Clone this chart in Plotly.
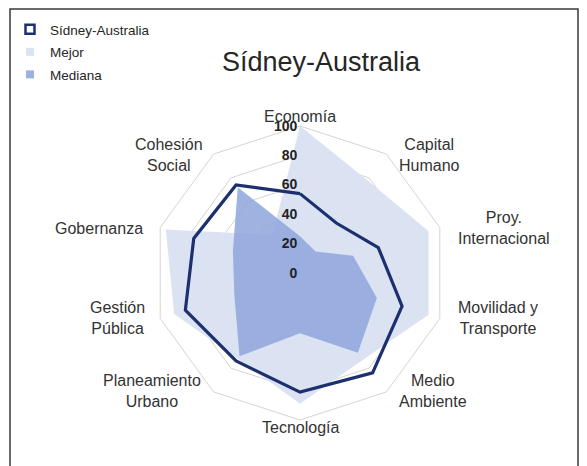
import plotly.graph_objects as go

categories = ["Economía", "Capital Humano", "Proy. Internacional", "Movilidad y Transporte",
              "Medio Ambiente", "Tecnología", "Planeamiento Urbano", "Gestión Pública",
              "Gobernanza", "Cohesión Social"]
label_text = ["Economía", "Capital<br>Humano", "Proy.<br>Internacional", "Movilidad y<br>Transporte",
              "Medio<br>Ambiente", "Tecnología", "Planeamiento<br>Urbano", "Gestión<br>Pública",
              "Gobernanza", "Cohesión<br>Social"]
sidney = [54, 42, 56, 73, 84, 81, 74, 82, 76, 74]
mejor = [100, 78, 92, 92, 73, 89, 72, 90, 96, 32]
mediana = [25, 18, 38, 55, 67, 41, 70, 47, 48, 72]
radial_ticks = [0, 20, 40, 60, 80, 100]

# layout: category label centres in page pixels
label_pos = [(300, 116), (429, 155), (504, 228), (498, 318), (433, 391),
             (300, 427), (152, 391), (117, 318), (99, 228), (169, 155)]

W, H = 587, 466
OFF = 8  # page body margin of the rendered html
cx, cy = 300, 273
R = 147

NAVY = "#1c2f6e"
LIGHT = "#dbe3f3"
MED = "#9db3df"


def px_x(x):
    return (x - OFF) / W


def px_y(y):
    return 1 - (y - OFF) / H


def closed(v):
    return list(v) + [v[0]]


theta = closed(categories)

fig = go.Figure()
fig.add_trace(go.Scatterpolar(r=closed(mejor), theta=theta, name="Mejor", mode="lines",
                              line=dict(width=0, color=LIGHT), fill="toself",
                              fillcolor=LIGHT, showlegend=False))
fig.add_trace(go.Scatterpolar(r=closed(mediana), theta=theta, name="Mediana", mode="lines",
                              line=dict(width=0, color=MED), fill="toself",
                              fillcolor="rgba(142,166,218,0.85)", showlegend=False))
fig.add_trace(go.Scatterpolar(r=closed(sidney), theta=theta, name="Sídney-Australia", mode="lines",
                              line=dict(width=3.2, color=NAVY), showlegend=False))

# legend entries (square swatches like the original)
legend_items = [("Sídney-Australia", dict(symbol="square", size=9, color="white",
                                          line=dict(color=NAVY, width=2.5))),
                ("Mejor", dict(symbol="square", size=8, color=LIGHT, line=dict(width=0))),
                ("Mediana", dict(symbol="square", size=8, color=MED, line=dict(width=0)))]
for i, (nm, mk) in enumerate(legend_items):
    fig.add_trace(go.Scatterpolar(r=[None], theta=[categories[0]], name=nm, mode="markers",
                                  marker=mk, legendgroup=f"g{i}", legendrank=i + 1))

annotations = [dict(text=t, x=px_x(px), y=px_y(py), xref="paper", yref="paper",
                    xanchor="center", yanchor="middle", align="center", showarrow=False,
                    font=dict(size=16, color="#333333"))
               for t, (px, py) in zip(label_text, label_pos)]

fig.update_layout(
    width=W, height=H,
    margin=dict(l=0, r=0, t=0, b=0),
    paper_bgcolor="white", plot_bgcolor="white",
    font=dict(family="Liberation Sans, Arial, sans-serif", color="#333333"),
    title=dict(text="Sídney-Australia", x=px_x(321), y=px_y(62), xanchor="center", yanchor="middle",
               font=dict(size=27, color="#262626")),
    showlegend=True,
    legend=dict(x=2 / W, y=1 - 6 / H, xanchor="left", yanchor="top",
                font=dict(size=13.5, color="#262626"), bgcolor="rgba(0,0,0,0)",
                itemwidth=30, tracegroupgap=2, itemclick=False),
    annotations=annotations,
    polar=dict(
        domain=dict(x=[px_x(cx - R), px_x(cx + R)], y=[px_y(cy + R), px_y(cy - R)]),
        bgcolor="rgba(0,0,0,0)",
        gridshape="linear",
        angularaxis=dict(direction="clockwise", rotation=90, showgrid=False, ticks="",
                         showline=True, linecolor="#d4d4d4", linewidth=1,
                         showticklabels=False),
        radialaxis=dict(range=[0, 100], tickvals=radial_ticks, angle=90, tickangle=90,
                        showline=False, ticks="", gridcolor="#d4d4d4", gridwidth=1,
                        side="counterclockwise",
                        tickfont=dict(size=14, color="#222222", weight="bold")),
    ),
    shapes=[dict(type="rect", xref="paper", yref="paper", x0=px_x(10), x1=px_x(578),
                 y0=-0.2, y1=px_y(9), line=dict(color="#3a3a3a", width=1.5),
                 fillcolor="rgba(0,0,0,0)", layer="below")],
)

fig.write_html("out.html")
